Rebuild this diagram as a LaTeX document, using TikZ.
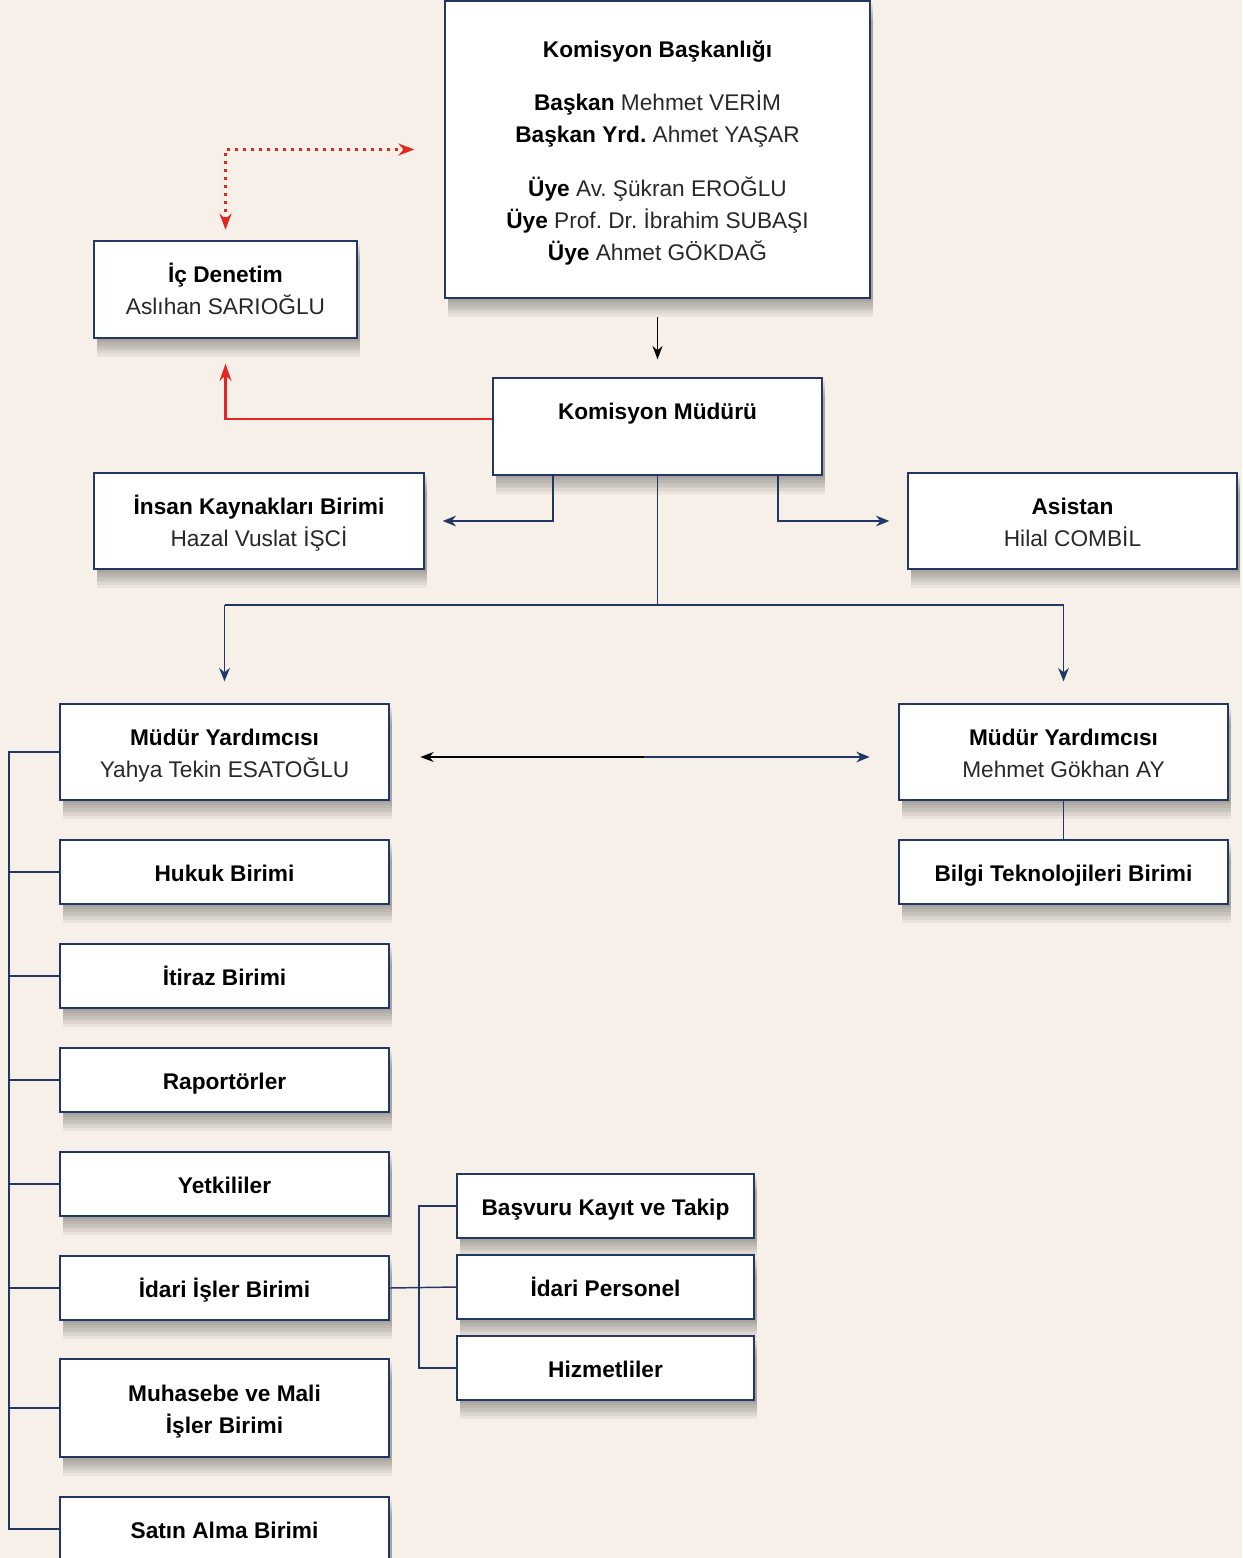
\documentclass[tikz,border=0pt]{standalone}
\usepackage{fontspec}
\setmainfont{Liberation Sans}
\usetikzlibrary{arrows.meta,calc}
\definecolor{navy}{RGB}{35,55,100}
\definecolor{bgc}{RGB}{246,240,232}
\definecolor{redc}{RGB}{228,38,34}
\definecolor{namec}{RGB}{40,40,40}
\newcommand{\nm}[1]{{\color{namec}#1}}
\newcommand{\tstrut}{\rule{0pt}{21.3pt}\strut}
\frenchspacing
\begin{document}
\begin{tikzpicture}[x=0.75pt,y=-0.75pt,
  shl/.style={preaction={fill=black, fill opacity=0.05, draw=none,
    transform canvas={xshift=2.5pt,yshift=-#1}}},
  box/.style={draw=navy, line width=1pt, fill=white, align=center, inner sep=0pt,
    font=\fontsize{17}{24}\selectfont,
    shl=2pt, shl=4pt, shl=6pt, shl=8pt, shl=10pt, shl=12pt, shl=14pt},
  wbox/.style={box, minimum width=246.75pt},
  tallbox/.style={wbox, minimum height=72pt},
  flatbox/.style={wbox, minimum height=48pt},
  subbox/.style={box, minimum width=222.75pt, minimum height=48pt},
  conn/.style={draw=navy, line width=1.1pt},
  navyarr/.style={conn, -{Stealth[length=10pt,width=8pt]}},
  blackarr/.style={draw=black, line width=1pt, -{Stealth[length=10pt,width=7.5pt]}},
  redarr/.style={draw=redc, line width=1.8pt, -{Stealth[length=13pt,width=9pt]}},
  reddots/.style={draw=redc, line width=1.8pt, dash pattern=on 1.8pt off 4.2pt,
    {Stealth[length=12pt,width=9pt]}-{Stealth[length=12pt,width=9pt]}}
]
\useasboundingbox (0,0) rectangle (1242,1558);
\fill[bgc] (0,0) rectangle (1242,1558);
\clip (0,0) rectangle (1242,1558);

% nodes
\node[box, minimum width=318.75pt, minimum height=222.75pt] (top) at (657.5,149.5)
  {\tstrut\textbf{Komisyon Başkanlığı}\\[16pt]
   \strut\textbf{Başkan} \nm{Mehmet VERİM}\\
   \strut\textbf{Başkan Yrd.} \nm{Ahmet YAŞAR}\\[16pt]
   \strut\textbf{Üye} \nm{Av. Şükran EROĞLU}\\
   \strut\textbf{Üye} \nm{Prof. Dr. İbrahim SUBAŞI}\\
   \strut\textbf{Üye} \nm{Ahmet GÖKDAĞ}};
\node[box, minimum width=197.25pt, minimum height=72.75pt] (ic) at (225.5,289.5)
  {\tstrut\textbf{İç Denetim}\\ \strut\nm{Aslıhan SARIOĞLU}};
\node[tallbox, minimum height=72.75pt] (mud) at (657.5,426.5)
  {\tstrut\textbf{Komisyon Müdürü}\\ \strut};
\node[box, minimum width=247.5pt, minimum height=72pt] (ins) at (259,521)
  {\tstrut\textbf{İnsan Kaynakları Birimi}\\ \strut\nm{Hazal Vuslat İŞCİ}};
\node[tallbox] (asis) at (1072.5,521)
  {\tstrut\textbf{Asistan}\\ \strut\nm{Hilal COMBİL}};
\node[tallbox] (myl) at (224.5,752)
  {\tstrut\textbf{Müdür Yardımcısı}\\ \strut\nm{Yahya Tekin ESATOĞLU}};
\node[tallbox] (myr) at (1063.5,752)
  {\tstrut\textbf{Müdür Yardımcısı}\\ \strut\nm{Mehmet Gökhan AY}};
\node[flatbox] (bilgi) at (1063.5,872) {\tstrut\textbf{Bilgi Teknolojileri Birimi}};
\node[flatbox] (hukuk) at (224.5,872) {\tstrut\textbf{Hukuk Birimi}};
\node[flatbox] (itiraz) at (224.5,976) {\tstrut\textbf{İtiraz Birimi}};
\node[flatbox] (rapor) at (224.5,1080) {\tstrut\textbf{Raportörler}};
\node[flatbox] (yetki) at (224.5,1184) {\tstrut\textbf{Yetkililer}};
\node[flatbox] (idari) at (224.5,1288) {\tstrut\textbf{İdari İşler Birimi}};
\node[wbox, minimum height=73.5pt] (muh) at (224.5,1408)
  {\tstrut\textbf{Muhasebe ve Mali}\\ \strut\textbf{İşler Birimi}};
\node[flatbox] (satin) at (224.5,1529) {\tstrut\textbf{Satın Alma Birimi}};
\node[subbox] (basv) at (605.5,1206) {\tstrut\textbf{Başvuru Kayıt ve Takip}};
\node[subbox] (ipers) at (605.5,1287) {\tstrut\textbf{İdari Personel}};
\node[subbox] (hizm) at (605.5,1368) {\tstrut\textbf{Hizmetliler}};

% helper coordinates
\coordinate (c1) at (553,0);
\coordinate (c2) at (778,0);
\coordinate (bus) at (0,605);
\coordinate (lb) at (9,0);
\coordinate (rb) at (419,0);

% connectors
\draw[blackarr, shorten <=14pt, shorten >=13.5pt] (top.south) -- (mud.north);
\draw[redarr, shorten >=18.75pt] ($(mud.west)+(0,-7.5)$) -| (ic.south);
\draw[reddots, shorten <=8pt, shorten >=22.5pt] (ic.north) |- (top.west);

\draw[navyarr, shorten >=13.5pt] (mud.south -| c1) |- (ins.east);
\draw[navyarr, shorten >=13.5pt] (mud.south -| c2) |- (asis.west);
\draw[conn] (mud.south) -- (mud.south |- bus);
\draw[conn] (myl.north |- bus) -- (myr.north |- bus);
\draw[navyarr, shorten >=16.5pt] (myl.north |- bus) -- (myl.north);
\draw[navyarr, shorten >=16.5pt] (myr.north |- bus) -- (myr.north);

\coordinate (dmid) at ($(myl.east)!0.5!(myr.west)+(0,5)$);
\draw[blackarr, shorten >=23pt] (dmid) -- ($(myl.east)+(0,5)$);
\draw[navyarr, shorten >=21.5pt] (dmid) -- ($(myr.west)+(0,5)$);

\draw[conn] (myr.south) -- (bilgi.north);

\draw[conn] (myl.west) -- (myl.west -| lb) -- (satin.west -| lb) -- (satin.west);
\foreach \n in {hukuk,itiraz,rapor,yetki,idari,muh}
  \draw[conn] (\n.west) -- (\n.west -| lb);

\draw[conn] (idari.east) -- (ipers.west);
\draw[conn] (basv.west) -- (basv.west -| rb) -- (hizm.west -| rb) -- (hizm.west);
\end{tikzpicture}
\end{document}
